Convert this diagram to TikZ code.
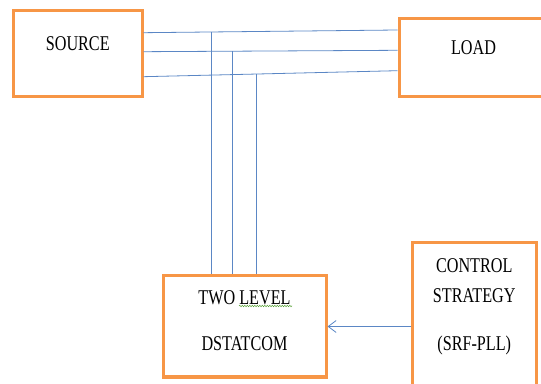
\documentclass[tikz,border=0pt]{standalone}
\usepackage{fontspec}
\setmainfont{Liberation Serif}[FakeStretch=0.77]
\usetikzlibrary{arrows.meta}
\usetikzlibrary{decorations.pathmorphing}
\definecolor{boxorange}{HTML}{F79646}
\definecolor{busblue}{HTML}{5B87C5}
\definecolor{spellgreen}{HTML}{5AA33A}
\tikzstyle{blk}=[draw=boxorange,line width=3pt,fill=white]
\tikzstyle{txt}=[inner sep=0pt,align=center,font=\fontsize{21}{30}\selectfont]
\tikzstyle{bus}=[draw=busblue,line width=.8pt]
\tikzstyle{arr}=[bus,-{Straight Barb[length=8pt,width=12pt]}]
\begin{document}
\begin{tikzpicture}[x=1pt,y=1pt]
	\useasboundingbox (0,0) rectangle (541,383);
	\node[blk,minimum width=128.5pt,minimum height=86pt] (src)  at (77.75,329) {};
	\node[blk,minimum width=149pt,minimum height=78pt]   (load) at (473.5,325) {};
	\node[blk,minimum width=163pt,minimum height=101pt]  (dst)  at (244.5,56.5) {};
	\node[blk,minimum width=123.5pt,minimum height=152pt] (ctrl) at (474.25,64) {};
	\node[txt,anchor=north] (src-t)  at ([yshift=-26.5pt]src.north)  {SOURCE};
	\node[txt,anchor=north] (load-t) at ([yshift=-22.5pt]load.north) {LOAD};
	\node[txt,anchor=north] (dst-t)  at ([yshift=-15.5pt]dst.north)  {TWO LEVEL\\[16pt]DSTATCOM};
	\node[txt,anchor=north] (ctrl-t) at ([yshift=-16.5pt]ctrl.north) {CONTROL\\STRATEGY\\[18pt](SRF-PLL)};
	% three phase lines
	\coordinate (s1) at (src.east |- 0,350.3);
	\coordinate (s2) at (src.east |- 0,331.3);
	\coordinate (s3) at (src.east |- 0,306.3);
	\coordinate (l1) at (load.west |- 0,353);
	\coordinate (l2) at (load.west |- 0,332.7);
	\coordinate (l3) at (load.west |- 0,312.3);
	\draw[bus] (s1) -- (l1) coordinate[pos=.267] (t1);
	\draw[bus] (s2) -- (l2) coordinate[pos=.349] (t2);
	\draw[bus] (s3) -- (l3) coordinate[pos=.443] (t3);
	\draw[bus] (t1) -- (t1 |- dst.north);
	\draw[bus] (t2) -- (t2 |- dst.north);
	\draw[bus] (t3) -- (t3 |- dst.north);
	\draw[arr] (dst.east -| ctrl.west) -- (dst.east);
	\draw[spellgreen,line width=.5pt,decorate,decoration={snake,amplitude=.7pt,segment length=2.5pt}]
		(239,77) -- (292,77);
\end{tikzpicture}
\end{document}
